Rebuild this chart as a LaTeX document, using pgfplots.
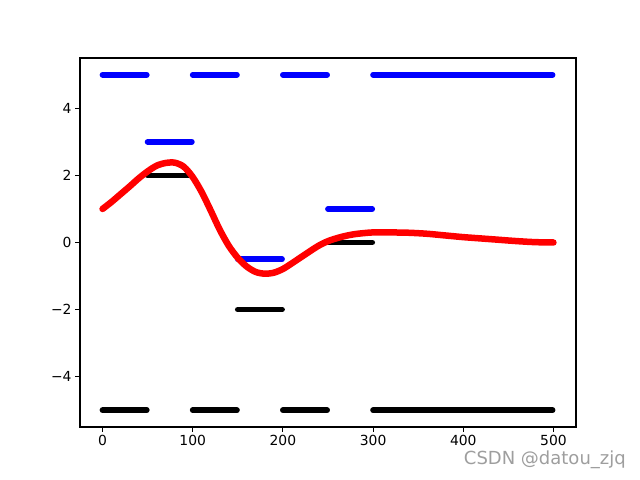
\documentclass[border=0pt]{standalone}
\usepackage{fontspec}
\setmainfont{DejaVu Sans}
\usepackage{pgfplots}
\pgfplotsset{compat=1.18}

% red trajectory
\pgfplotstableread{
x y
0 1.00
10 1.21
20 1.44
30 1.67
40 1.91
50 2.12
60 2.29
70 2.37
80 2.38
90 2.26
100 1.95
110 1.50
120 0.95
130 0.38
140 -0.10
150 -0.46
160 -0.72
170 -0.88
180 -0.93
190 -0.90
200 -0.79
210 -0.62
220 -0.44
230 -0.26
240 -0.09
250 0.04
260 0.13
270 0.20
280 0.25
290 0.28
300 0.30
320 0.30
340 0.29
360 0.26
380 0.21
400 0.16
420 0.12
440 0.08
460 0.04
480 0.01
500 0.00
}\red

\begin{document}
\begin{tikzpicture}
\useasboundingbox (-80bp,-53bp) rectangle (560bp,427bp);
\begin{axis}[
    scale only axis,
    width=496bp, height=369bp,
    xmin=-25, xmax=525,
    ymin=-5.5, ymax=5.5,
    xtick={0,100,200,300,400,500},
    ytick={-4,-2,0,2,4},
    yticklabels={−4,−2,0,2,4},
    xtick pos=bottom, ytick pos=left,
    tick align=outside,
    major tick length=4.9bp,
    tick style={black, line width=1.1bp},
    axis line style={line width=1.1bp},
    ticklabel style={font=\fontsize{13.9bp}{16bp}\selectfont},
    /pgf/number format/assume math mode=true,
    unbounded coords=jump,
]
\addplot[black, line width=5.8bp, line cap=round] coordinates {
    (0,-5) (49,-5) (nan,nan)
    (50,2) (99,2) (nan,nan)
    (100,-5) (149,-5) (nan,nan)
    (150,-2) (199,-2) (nan,nan)
    (200,-5) (249,-5) (nan,nan)
    (250,0) (299,0) (nan,nan)
    (300,-5) (499,-5)
};
\addplot[blue, line width=5.8bp, line cap=round] coordinates {
    (0,5) (49,5) (nan,nan)
    (50,3) (99,3) (nan,nan)
    (100,5) (149,5) (nan,nan)
    (150,-0.5) (199,-0.5) (nan,nan)
    (200,5) (249,5) (nan,nan)
    (250,1) (299,1) (nan,nan)
    (300,5) (499,5)
};
\addplot[red, line width=6.5bp, line cap=round, line join=round, smooth] table[x=x, y=y] {\red};
\end{axis}
\node[anchor=east, text=black!38, font=\fontsize{18bp}{21bp}\selectfont, inner sep=0pt] at (546bp,-33bp) {CSDN @datou\_zjq};
\end{tikzpicture}
\end{document}
